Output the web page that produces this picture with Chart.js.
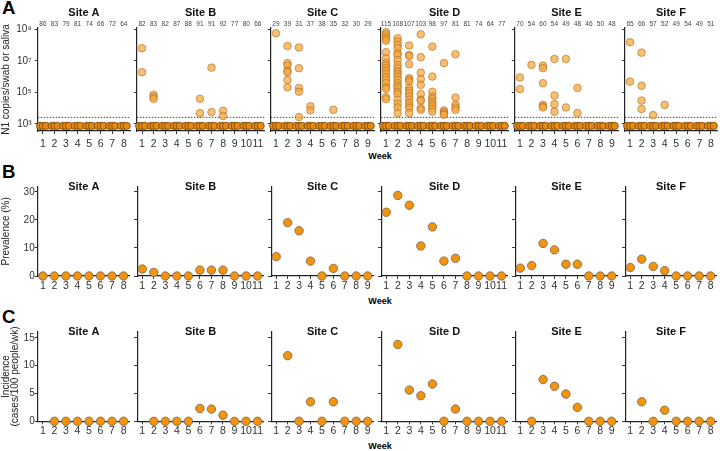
<!DOCTYPE html>
<html>
<head>
<meta charset="utf-8">
<script src="https://cdn.jsdelivr.net/npm/chart.js@4.4.1/dist/chart.umd.min.js"></script>
<style>
  body { margin: 0; background: #fff; }
  #wrap { position: relative; width: 720px; height: 451px; overflow: hidden; font-family: 'Liberation Sans', Arial, sans-serif; }
  canvas { position: absolute; }
  .lbl { position: absolute; font-weight: bold; color: #000; line-height: 1; white-space: nowrap; }
  .letter { font-size: 18.6px; left: 2px; }
  .week { font-size: 9px; left: 380px; transform: translateX(-50%); }
</style>
</head>
<body>
<div id="wrap">
  <div class="lbl letter" style="top:-0.7px">A</div>
  <div class="lbl letter" style="top:162.6px">B</div>
  <div class="lbl letter" style="top:307.6px">C</div>
  <div class="lbl week" style="top:151.6px">Week</div>
  <div class="lbl week" style="top:297.3px">Week</div>
  <div class="lbl week" style="top:442.3px">Week</div>
</div>
<script>
// ---- data ----
const sites = ['Site A', 'Site B', 'Site C', 'Site D', 'Site E', 'Site F'];
const weekCounts = [8, 11, 9, 11, 9, 8];

// samples tested per week (numbers above panel A)
const samplesTested = [
  [86, 83, 79, 81, 74, 66, 72, 64],
  [82, 83, 82, 87, 88, 91, 91, 92, 77, 80, 66],
  [29, 39, 31, 37, 38, 35, 32, 30, 29],
  [115, 108, 107, 103, 98, 97, 81, 81, 74, 64, 77],
  [70, 54, 60, 54, 49, 48, 46, 50, 48],
  [65, 66, 57, 52, 49, 54, 49, 51]
];

// detected N1 copies, one list per week
const copiesA = [[], [], [], [], [], [], [], []];
const copiesB = [[6.3e7, 1.9e6], [7.1e4, 5.2e4, 3.9e4], [], [], [], [3.9e4, 4.8e3], [3.7e6, 5.6e3], [6.8e3, 3.2e3], [], [], []];
const copiesC = [[5.6e8], [8.7e7, 7.1e6, 5.0e6, 2.3e6, 1.9e6, 6.2e5, 2.1e5], [6.9e7, 3.4e6, 1.9e5, 1.1e5, 2.7e3], [1.3e4, 7.1e3], [], [7.8e3], [], [], []];
const copiesD = [
  [6.5e8, 4.8e8, 3.4e8, 2.5e8, 1.9e8, 3.5e7, 1.4e7, 7.1e6, 5.0e6, 3.4e6, 2.3e6, 1.5e6, 9.1e5, 6.2e5, 3.8e5, 2.1e5, 1.7e5, 5.0e4, 3.7e4],
  [2.7e8, 1.7e8, 1.0e8, 6.3e7, 3.0e7, 2.3e7, 1.1e7, 5.5e6, 3.4e6, 2.1e6, 1.5e6, 1.0e6, 6.2e5, 3.8e5, 2.6e5, 1.9e5, 1.1e5, 8.1e4, 3.4e4, 1.9e4, 1.1e4, 4.8e3],
  [9.3e7, 2.3e7, 2.0e7, 6.0e6, 7.9e5, 6.2e5, 4.8e5, 1.9e5, 1.3e5, 8.9e4, 5.4e4, 3.4e4, 2.1e4, 1.4e4, 1.0e4, 4.8e3],
  [4.8e8, 1.7e7, 1.8e6, 6.9e5, 3.0e5, 7.8e4, 3.4e4, 2.9e4, 1.0e4, 7.8e3],
  [7.9e7, 1.0e6, 1.1e5, 5.4e4, 3.9e4, 2.6e4, 1.8e4, 1.3e4, 9.1e3, 6.0e3],
  [7.1e6, 7.1e3, 5.6e3, 4.5e3, 3.8e3],
  [2.6e7, 4.7e4, 1.6e4, 1.1e4, 7.8e3],
  [], [], [], []
];
const copiesE = [[8.7e5, 1.6e5], [5.5e6], [5.0e6, 3.4e6, 3.8e5, 1.6e4, 1.3e4, 1.1e4], [1.3e7, 6.3e4, 1.8e4, 6.0e3], [1.3e7, 1.1e4], [1.9e5, 4.8e3], [], [], []];
const copiesF = [[1.5e8, 4.8e5], [3.3e7, 2.6e5, 3.0e4, 8.7e3], [3.6e3], [1.6e4], [], [], [], []];
const copies = [copiesA, copiesB, copiesC, copiesD, copiesE, copiesF];

const lodCopies = 2.6e3;     // dotted detection limit
const belowLodCopies = 7.5e2; // where negative samples are plotted

const prevalence = [
  [0, 0, 0, 0, 0, 0, 0, 0],
  [2.5, 1.3, 0, 0, 0, 2.1, 2.1, 2.1, 0, 0, 0],
  [6.9, 19.0, 16.1, 5.3, 0, 2.7, 0, 0, 0],
  [22.7, 28.7, 25.2, 10.7, 17.5, 5.3, 6.3, 0, 0, 0, 0],
  [2.8, 3.7, 11.6, 9.3, 4.2, 4.2, 0, 0, 0],
  [3.0, 6.0, 3.4, 1.9, 0, 0, 0, 0]
];
const incidence = [
  [null, 0, 0, 0, 0, 0, 0, 0],
  [null, 0, 0, 0, 0, 2.3, 2.2, 1.1, 0, 0, 0],
  [null, 11.8, 0, 3.5, 0, 3.5, 0, 0, 0],
  [null, 13.8, 5.6, 4.6, 6.7, 0, 2.2, 0, 0, 0, 0],
  [null, 0, 7.5, 6.3, 4.9, 2.5, 0, 0, 0],
  [null, 3.5, 0, 2.0, 0, 0, 0, 0]
];

const copiesTicks = [1e3, 1e5, 1e7, 1e9];
const prevalenceTicks = [0, 10, 20, 30];
const incidenceTicks = [0, 5, 10, 15];

// ---- layout ----
const FONT = "'Liberation Sans', Arial, sans-serif";
const PX_WEEK = 11.9;
const GAP = 3;
const axisX = [];
let xCursor = 37.7;
weekCounts.forEach(n => { axisX.push(xCursor); xCursor += n * PX_WEEK + GAP; });

const sup = { '0': '⁰', '1': '¹', '2': '²', '3': '³', '4': '⁴', '5': '⁵', '6': '⁶', '7': '⁷', '8': '⁸', '9': '⁹' };

const rows = [
  { top: 0, height: 152, plotTop: 28, plotBottom: 131, type: 'logarithmic', min: Math.pow(10, 2.55), max: Math.pow(10, 9.08),
    ticks: copiesTicks, title: 'N1 copies/swab or saliva', titleY: 12.5, labelPad: 4, titlePad: 0.5, titleLine: 1.2,
    fmt: v => '10' + String(Math.round(Math.log10(v))).split('').map(c => sup[c]).join('') },
  { top: 170, height: 125, plotTop: 186.7, plotBottom: 276, type: 'linear', min: 0, max: 31.8,
    ticks: prevalenceTicks, title: 'Prevalence (%)', titleY: 186.5, labelPad: 1, titlePad: 0, titleLine: 1.2, fmt: v => String(v) },
  { top: 310, height: 130, plotTop: 331.7, plotBottom: 421.3, type: 'linear', min: 0, max: 16.1,
    ticks: incidenceTicks, title: ['Incidence', '(cases/100 people/wk)'], titleY: 331.5, labelPad: 1, titlePad: 1.5, titleLine: 0.9, fmt: v => String(v) }
];

const panelText = {
  id: 'panelText',
  afterDraw(chart, args, opts) {
    const { ctx, chartArea } = chart;
    ctx.save();
    ctx.textAlign = 'center';
    ctx.textBaseline = 'middle';
    ctx.fillStyle = '#111';
    ctx.font = 'bold 11px ' + FONT;
    ctx.fillText(opts.title, (chartArea.left + chartArea.right) / 2, opts.titleY);
    if (opts.counts) {
      ctx.font = '6.5px ' + FONT;
      ctx.fillStyle = '#444';
      opts.counts.forEach((c, i) => {
        ctx.fillText(String(c), chart.scales.x.getPixelForValue(i + 1), chartArea.top - 3.5);
      });
    }
    ctx.restore();
  }
};

const clusterOffsets = [-0.25, 0, 0.25];

const wrap = document.getElementById('wrap');

function makePanel(r, s) {
  const row = rows[r];
  const n = weekCounts[s];
  const weeks = Array.from({ length: n }, (_, i) => i + 1);
  const canvasLeft = s === 0 ? 0 : Math.round(axisX[s] - 4);
  const yWidth = axisX[s] - canvasLeft;
  const plotRight = axisX[s] + n * PX_WEEK;
  const width = Math.ceil(plotRight - canvasLeft) + 2;
  const rightPad = width - (plotRight - canvasLeft);
  const xMin = 0.55, xMax = n + 0.55;

  const canvas = document.createElement('canvas');
  canvas.width = width;
  canvas.height = row.height;
  canvas.style.left = canvasLeft + 'px';
  canvas.style.top = row.top + 'px';
  canvas.style.width = width + 'px';
  canvas.style.height = row.height + 'px';
  wrap.appendChild(canvas);

  let datasets;
  if (r === 0) {
    const detected = [];
    copies[s].forEach((list, i) => list.forEach(v => detected.push({ x: i + 1, y: v })));
    const negatives = [];
    weeks.forEach(w => clusterOffsets.forEach(o => negatives.push({ x: w + o, y: belowLodCopies })));
    datasets = [
      { data: detected, pointRadius: 3.8, backgroundColor: 'rgba(246,166,58,0.72)', borderColor: 'rgba(165,105,35,0.85)', borderWidth: 0.7, clip: false },
      { data: [{ x: xMin, y: lodCopies }, { x: xMax, y: lodCopies }], showLine: true, pointRadius: 0,
        borderColor: '#444', borderWidth: 1, borderDash: [1.5, 1.5], clip: false },
      { data: negatives, pointRadius: 3.6, backgroundColor: '#E8890F', borderColor: '#6e4512', borderWidth: 0.8, clip: false }
    ];
  } else {
    const vals = (r === 1 ? prevalence : incidence)[s];
    const pts = [];
    vals.forEach((v, i) => { if (v !== null) pts.push({ x: i + 1, y: v }); });
    datasets = [{ data: pts, pointRadius: 4.2, backgroundColor: '#F5930B', borderColor: '#7d6a55', borderWidth: 0.9, clip: false }];
  }

  new Chart(canvas.getContext('2d'), {
    type: 'scatter',
    data: { datasets },
    options: {
      responsive: false,
      animation: false,
      events: [],
      layout: { padding: { top: row.plotTop - row.top, right: rightPad, left: 0, bottom: 0 } },
      scales: {
        x: {
          type: 'linear',
          min: xMin,
          max: xMax,
          afterBuildTicks: sc => { sc.ticks = weeks.map(v => ({ value: v })); },
          afterFit: sc => { sc.height = row.top + row.height - row.plotBottom; },
          ticks: { autoSkip: false, maxRotation: 0, minRotation: 0, padding: row.labelPad, color: '#333', font: { family: FONT, size: 10.5 } },
          grid: { drawOnChartArea: false, tickLength: 3, color: '#333' },
          border: { color: '#222', width: 1.2 }
        },
        y: {
          type: row.type,
          min: row.min,
          max: row.max,
          afterBuildTicks: sc => { sc.ticks = row.ticks.map(v => ({ value: v })); },
          afterFit: sc => { sc.width = yWidth; },
          ticks: { display: s === 0, padding: r === 0 ? 3 : 0, color: '#333', font: { family: FONT, size: 10 }, callback: v => row.fmt(v) },
          grid: { drawOnChartArea: false, tickLength: 3, color: '#333' },
          border: { color: '#222', width: 1.2 },
          title: { display: s === 0, text: row.title, color: '#222', padding: { top: row.titlePad, bottom: 0 },
                   font: { family: FONT, size: 10, lineHeight: row.titleLine } }
        }
      },
      plugins: {
        legend: { display: false },
        tooltip: { enabled: false },
        panelText: { title: sites[s], titleY: row.titleY - row.top, counts: r === 0 ? samplesTested[s] : null }
      }
    },
    plugins: [panelText]
  });
}

rows.forEach((_, r) => sites.forEach((_, s) => makePanel(r, s)));
</script>
</body>
</html>
